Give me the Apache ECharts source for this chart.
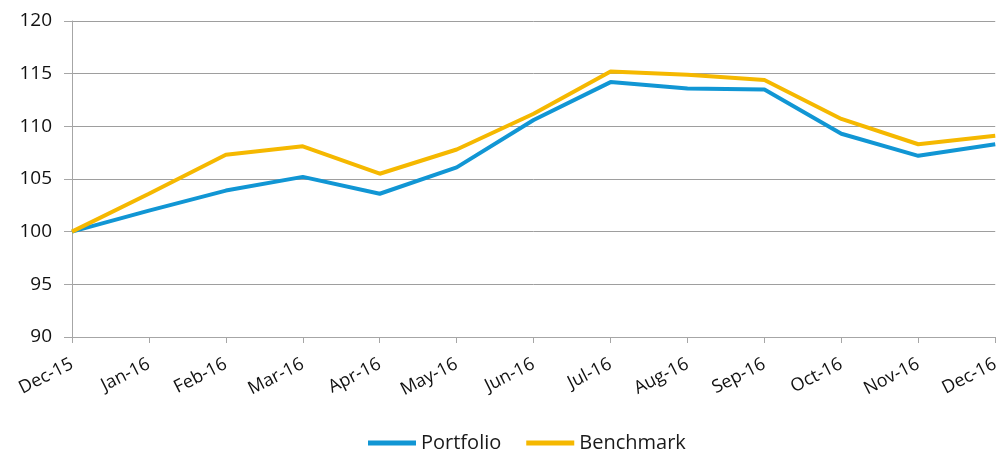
<!DOCTYPE html>
<html>
<head>
<meta charset="utf-8">
<script src="https://cdn.jsdelivr.net/npm/echarts@6/dist/echarts.min.js"></script>
<style>
  html, body { margin: 0; padding: 0; background: #fff; }
  #chart { width: 1002px; height: 453px; }
</style>
</head>
<body>
<div id="chart"></div>
<script>
// months along the x axis
var months = ["Dec-15", "Jan-16", "Feb-16", "Mar-16", "Apr-16", "May-16", "Jun-16",
  "Jul-16", "Aug-16", "Sep-16", "Oct-16", "Nov-16", "Dec-16"];
// values
var portfolio = [100, 102.0, 103.9, 105.2, 103.6, 106.1, 110.6, 114.2, 113.6, 113.5, 109.3, 107.2, 108.3];
var benchmark = [100, 103.6, 107.3, 108.1, 105.5, 107.8, 111.2, 115.2, 114.9, 114.4, 110.7, 108.3, 109.1];

var fontName = "'Open Sans', 'Liberation Sans', sans-serif";
var axisGrey = "#a6a6a6";

var chart = echarts.init(document.getElementById("chart"));
chart.setOption({
  animation: false,
  grid: { left: 72, right: 4, top: 21, bottom: 116, containLabel: false },
  legend: {
    top: 428,
    left: 363,
    itemWidth: 48,
    itemHeight: 5,
    itemGap: 25,
    icon: "rect",
    textStyle: { fontFamily: fontName, fontSize: 20, color: "#1a1a1a" },
    data: ["Portfolio", "Benchmark"]
  },
  xAxis: {
    type: "category",
    boundaryGap: false,
    data: months,
    axisLine: { lineStyle: { color: axisGrey, width: 1 } },
    axisTick: { show: true, length: 6, lineStyle: { color: axisGrey } },
    axisLabel: {
      rotate: 27,
      margin: 26,
      fontFamily: fontName,
      fontSize: 18,
      color: "#111"
    }
  },
  yAxis: {
    type: "value",
    min: 90,
    max: 120,
    interval: 5,
    axisLine: { show: true, lineStyle: { color: axisGrey, width: 1 } },
    axisTick: { show: true, length: 8, lineStyle: { color: axisGrey } },
    splitLine: { show: true, lineStyle: { color: "#9e9e9e", width: 1 } },
    axisLabel: {
      margin: 20,
      fontFamily: fontName,
      fontSize: 19,
      color: "#111"
    }
  },
  series: [
    {
      name: "Portfolio",
      type: "line",
      data: portfolio,
      showSymbol: false,
      symbol: "none",
      lineStyle: { color: "#1196d4", width: 4 },
      itemStyle: { color: "#1196d4" }
    },
    {
      name: "Benchmark",
      type: "line",
      data: benchmark,
      showSymbol: false,
      symbol: "none",
      lineStyle: { color: "#f5b800", width: 4 },
      itemStyle: { color: "#f5b800" }
    }
  ]
});
</script>
</body>
</html>
